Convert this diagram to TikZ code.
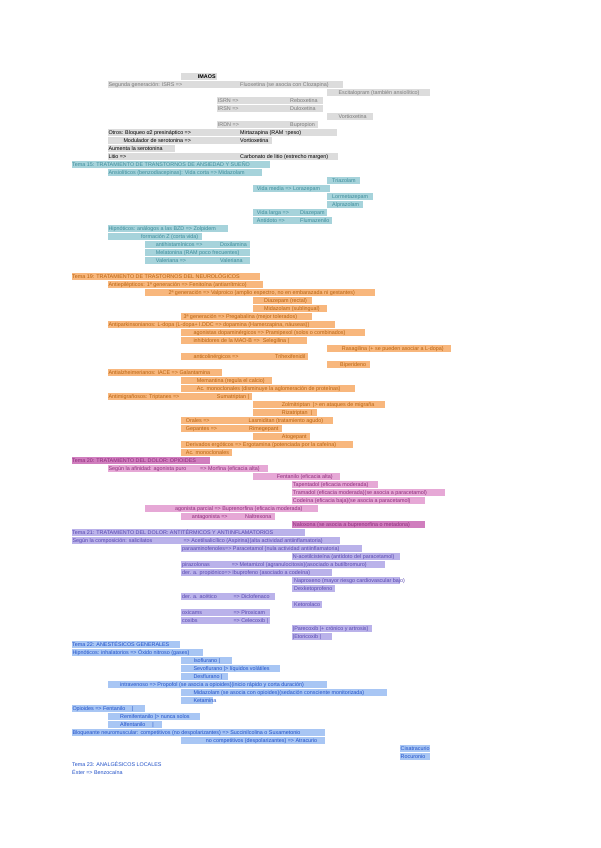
\documentclass[tikz,border=0pt]{standalone}
\usepackage{fontspec}
\setmainfont{Liberation Sans}
\definecolor{gybox}{HTML}{DCDCDC}
\definecolor{gytx}{HTML}{7A7A7A}
\definecolor{tlbox}{HTML}{A6D3DB}
\definecolor{tltx}{HTML}{3D8D9B}
\definecolor{orbox}{HTML}{F8B77D}
\definecolor{ortx}{HTML}{B8620E}
\definecolor{pkbox}{HTML}{E6A8D6}
\definecolor{pkdark}{HTML}{D07EBE}
\definecolor{pktx}{HTML}{8E2C7C}
\definecolor{lvbox}{HTML}{BAB2EA}
\definecolor{lvtx}{HTML}{5847B0}
\definecolor{blbox}{HTML}{A8C6F4}
\definecolor{bltx}{HTML}{2050C8}
\newcounter{nodeid}
\newcommand\hlbox[4]{\fill[#4] (#2,{76.3+8*#1-3.7}) rectangle (#3,{76.3+8*#1+3.7});}
\newcommand\tx[4]{\stepcounter{nodeid}\node[txt,#1] (t\arabic{nodeid}) at (#2,{76.3+8*#3+2}) {#4};}
\tikzset{
  txt/.style={anchor=base west, inner sep=0pt, font=\fontsize{5.4}{6}\selectfont},
  gy/.style={text=gytx}, bk/.style={text=black},
  tl/.style={text=tltx}, or/.style={text=ortx}, pk/.style={text=pktx},
  lv/.style={text=lvtx}, bl/.style={text=bltx}
}
\begin{document}
\begin{tikzpicture}[x=1pt,y=-1pt]
\useasboundingbox (0,0) rectangle (600,848);
\fill[white] (0,0) rectangle (600,848);
% ---------- gray ----------
\hlbox{0}{181}{217}{gybox}
\tx{bk}{197.7}{0}{\bfseries IMAOS}
\hlbox{1}{108}{343}{gybox}
\tx{gy}{108.3}{1}{Segunda generación: ISRS =>}
\tx{gy}{240}{1}{Fluoxetina (se asocia con Clozapina)}
\hlbox{2}{326.7}{430}{gybox}
\tx{gy}{338.3}{2}{Escitalopram (también ansiolítico)}
\hlbox{3}{216.7}{323.3}{gybox}
\tx{gy}{217.7}{3}{ISRN =>}
\tx{gy}{290}{3}{Reboxetina}
\hlbox{4}{216.7}{323.3}{gybox}
\tx{gy}{217.7}{4}{IRSN =>}
\tx{gy}{290}{4}{Duloxetina}
\hlbox{5}{326.7}{373.3}{gybox}
\tx{gy}{338.3}{5}{Vortioxetina}
\hlbox{6}{216.7}{318.3}{gybox}
\tx{gy}{217.7}{6}{IRDN =>}
\tx{gy}{290}{6}{Bupropion}
\hlbox{7}{108}{336.7}{gybox}
\tx{bk}{108.3}{7}{Otros: Bloqueo α2 presináptico =>}
\tx{bk}{240}{7}{Mirtazapina (RAM ↑peso)}
\hlbox{8}{108}{271.7}{gybox}
\tx{bk}{123.3}{8}{Modulador de serotonina =>}
\tx{bk}{240}{8}{Vortioxetina}
\hlbox{9}{108}{175}{gybox}
\tx{bk}{108.3}{9}{Aumenta la serotonina}
\hlbox{10}{108}{338}{gybox}
\tx{bk}{108.3}{10}{Litio =>}
\tx{bk}{240}{10}{Carbonato de litio (estrecho margen)}
% ---------- teal ----------
\hlbox{11}{71.7}{270}{tlbox}
\tx{tl}{72}{11}{Tema 15: TRATAMIENTO DE TRANSTORNOS DE ANSIEDAD Y SUEÑO}
\hlbox{12}{108}{261.7}{tlbox}
\tx{tl}{108.3}{12}{Ansiolíticos (benzodiacepinas): Vida corta => Midazolam}
\hlbox{13}{326.7}{360}{tlbox}
\tx{tl}{332}{13}{Triazolam}
\hlbox{14}{253.3}{330}{tlbox}
\tx{tl}{256.7}{14}{Vida media => Lorazepam}
\hlbox{15}{326.7}{373.3}{tlbox}
\tx{tl}{332}{15}{Lormetazepam}
\hlbox{16}{326.7}{363.3}{tlbox}
\tx{tl}{332}{16}{Alprazolam}
\hlbox{17}{253.3}{326.7}{tlbox}
\tx{tl}{256.7}{17}{Vida larga =>}
\tx{tl}{300}{17}{Diazepam}
\hlbox{18}{253.3}{331.7}{tlbox}
\tx{tl}{256.7}{18}{Antídoto =>}
\tx{tl}{300}{18}{Flumazenilo}
\hlbox{19}{108}{228}{tlbox}
\tx{tl}{108.3}{19}{Hipnóticos: análogos a las BZD => Zolpidem}
\hlbox{20}{108}{201.7}{tlbox}
\tx{tl}{141}{20}{formación Z (corta vida)}
\hlbox{21}{145}{250}{tlbox}
\tx{tl}{155.7}{21}{antihistamínicos =>}
\tx{tl}{220}{21}{Doxilamina}
\hlbox{22}{145}{250}{tlbox}
\tx{tl}{155.7}{22}{Melatonina (RAM poco frecuentes)}
\hlbox{23}{145}{250}{tlbox}
\tx{tl}{155.7}{23}{Valeriana =>}
\tx{tl}{220}{23}{Valeriana}
% ---------- orange ----------
\hlbox{25}{71.7}{260}{orbox}
\tx{or}{72}{25}{Tema 19: TRATAMIENTO DE TRASTORNOS DEL NEUROLÓGICOS}
\hlbox{26}{108}{263.3}{orbox}
\tx{or}{108.3}{26}{Antiepilépticos: 1ª generación => Fenitoína (antiarrítmico)}
\hlbox{27}{145}{375}{orbox}
\tx{or}{168.3}{27}{2ª generación => Valproico (amplio espectro, no en embarazada ni gestantes)}
\hlbox{28}{253.3}{311.7}{orbox}
\tx{or}{264}{28}{Diazepam (rectal)}
\hlbox{29}{253.3}{326.7}{orbox}
\tx{or}{264}{29}{Midazolam (sublingual)}
\hlbox{30}{181}{311.7}{orbox}
\tx{or}{183.3}{30}{3ª generación => Pregabalina (mejor tolerados)}
\hlbox{31}{108}{335}{orbox}
\tx{or}{108.3}{31}{Antiparkinsonianos: L-dopa (L-dopa+ I.DDC => dopamina (Hamerzapina, náuseas))}
\hlbox{32}{181}{365}{orbox}
\tx{or}{193.3}{32}{agonistas dopaminérgicos => Pramipexol (solos o combinados)}
\hlbox{33}{181}{306.7}{orbox}
\tx{or}{193.3}{33}{inhibidores de la MAO-B => \ Selegilina |}
\hlbox{34}{326.7}{451}{orbox}
\tx{or}{341.7}{34}{Rasagilina (+ se pueden asociar a L-dopa)}
\hlbox{35}{181}{308}{orbox}
\tx{or}{193.3}{35}{anticolinérgicos =>}
\tx{or}{275}{35}{Trihexifenidil}
\hlbox{36}{326.7}{370}{orbox}
\tx{or}{340}{36}{Biperideno}
\hlbox{37}{108}{221.7}{orbox}
\tx{or}{108.3}{37}{Antialzheimerianos: IACE => Galantamina}
\hlbox{38}{181}{271.7}{orbox}
\tx{or}{196.7}{38}{Memantina (regula el calcio)}
\hlbox{39}{181}{355}{orbox}
\tx{or}{196.7}{39}{Ac. monoclonales (disminuye la aglomeración de proteínas)}
\hlbox{40}{108}{251.7}{orbox}
\tx{or}{108.3}{40}{Antimigrañosos: Triptanes =>}
\tx{or}{216.7}{40}{Sumatriptan |}
\hlbox{41}{253.3}{385}{orbox}
\tx{or}{281.7}{41}{Zolmitriptan \ |> en ataques de migraña}
\hlbox{42}{253.3}{316.7}{orbox}
\tx{or}{281.7}{42}{Rizatriptan \ |}
\hlbox{43}{181}{333.3}{orbox}
\tx{or}{185.7}{43}{Orales =>}
\tx{or}{248.3}{43}{Lasmiditan (tratamiento agudo)}
\hlbox{44}{181}{281.7}{orbox}
\tx{or}{185.7}{44}{Gepantes =>}
\tx{or}{249}{44}{Rimegepant}
\hlbox{45}{253.3}{310}{orbox}
\tx{or}{281.7}{45}{Atogepant}
\hlbox{46}{181}{353.3}{orbox}
\tx{or}{185.7}{46}{Derivados ergóticos => Ergotamina (potenciada por la cafeína)}
\hlbox{47}{181}{231.7}{orbox}
\tx{or}{185.7}{47}{Ac. monoclonales}
% ---------- pink ----------
\hlbox{48}{71.7}{210}{pkdark}
\tx{pk}{72}{48}{Tema 20: TRATAMIENTO DEL DOLOR: OPIOIDES}
\hlbox{49}{108}{268.3}{pkbox}
\tx{pk}{108.3}{49}{Según la afinidad: agonista puro}
\tx{pk}{200}{49}{=> Morfina (eficacia alta)}
\hlbox{50}{253.3}{340}{pkbox}
\tx{pk}{276.7}{50}{Fentanilo (eficacia alta)}
\hlbox{51}{291.7}{378.3}{pkbox}
\tx{pk}{292.7}{51}{Tapentadol (eficacia moderada)}
\hlbox{52}{291.7}{445}{pkbox}
\tx{pk}{292.7}{52}{Tramadol (eficacia moderada)(se asocia a paracetamol)}
\hlbox{53}{291.7}{425}{pkbox}
\tx{pk}{292.7}{53}{Codeína (eficacia baja)(se asocia a paracetamol)}
\hlbox{54}{145}{318.3}{pkbox}
\tx{pk}{175}{54}{agonista parcial => Buprenorfina (eficacia moderada)}
\hlbox{55}{181}{275}{pkbox}
\tx{pk}{191.7}{55}{antagonista =>}
\tx{pk}{245}{55}{Naltrexona}
\hlbox{56}{291.7}{425}{pkdark}
\tx{pk}{292.7}{56}{Naloxona (se asocia a buprenorfina o metadona)}
% ---------- lavender ----------
\hlbox{57}{71.7}{305}{lvbox}
\tx{lv}{72}{57}{Tema 21: TRATAMIENTO DEL DOLOR: ANTITÉRMICOS Y ANTIINFLAMATORIOS}
\hlbox{58}{71.7}{340}{lvbox}
\tx{lv}{72.3}{58}{Según la composición: salicilatos}
\tx{lv}{183.3}{58}{=> Acetilsalicílico (Aspirina)(alta actividad antiinflamatoria)}
\hlbox{59}{181}{361.7}{lvbox}
\tx{lv}{182}{59}{paraaminofenoles=> Paracetamol (nula actividad antiinflamatoria)}
\hlbox{60}{291.7}{400}{lvbox}
\tx{lv}{292.7}{60}{N-acetilcisteína (antídoto del paracetamol)}
\hlbox{61}{181}{385}{lvbox}
\tx{lv}{182}{61}{pirazolonas}
\tx{lv}{231.7}{61}{=> Metamizol (agranulocitosis)(asociado a butilbromuro)}
\hlbox{62}{181}{331.7}{lvbox}
\tx{lv}{182}{62}{der. a. propiónico=> Ibuprofeno (asociado a codeína)}
\hlbox{63}{291.7}{400}{lvbox}
\tx{lv}{294}{63}{Naproxeno (mayor riesgo cardiovascular bajo)}
\hlbox{64}{291.7}{335}{lvbox}
\tx{lv}{294}{64}{Dexketoprofeno}
\hlbox{65}{181}{275}{lvbox}
\tx{lv}{182}{65}{der. a. acético}
\tx{lv}{233.3}{65}{=> Diclofenaco}
\hlbox{66}{291.7}{321.7}{lvbox}
\tx{lv}{294}{66}{Ketorolaco}
\hlbox{67}{181}{270}{lvbox}
\tx{lv}{182}{67}{oxicams}
\tx{lv}{233.3}{67}{=> Piroxicam}
\hlbox{68}{181}{270}{lvbox}
\tx{lv}{182}{68}{coxibs}
\tx{lv}{233.3}{68}{=> Celecoxib |}
\hlbox{69}{291.7}{371.7}{lvbox}
\tx{lv}{292.7}{69}{|Parecoxib |+ crónico y artrosis)}
\hlbox{70}{291.7}{331.7}{lvbox}
\tx{lv}{292.7}{70}{|Etoricoxib |}
% ---------- blue ----------
\hlbox{71}{71.7}{180}{blbox}
\tx{bl}{72}{71}{Tema 22: ANESTÉSICOS GENERALES}
\hlbox{72}{71.7}{203.3}{blbox}
\tx{bl}{72.3}{72}{Hipnóticos: inhalatorios => Óxido nitroso (gases)}
\hlbox{73}{181}{231.7}{blbox}
\tx{bl}{193.3}{73}{Isoflurano |}
\hlbox{74}{181}{280}{blbox}
\tx{bl}{193.3}{74}{Sevoflurano |> líquidos volátiles}
\hlbox{75}{181}{228.3}{blbox}
\tx{bl}{193.3}{75}{Desflurano |}
\hlbox{76}{108}{326.7}{blbox}
\tx{bl}{120}{76}{intravenoso => Propofol (se asocia a opioides)(inicio rápido y corta duración)}
\hlbox{77}{181}{386.7}{blbox}
\tx{bl}{193.3}{77}{Midazolam (se asocia con opioides)(sedación consciente monitorizada)}
\hlbox{78}{181}{213.3}{blbox}
\tx{bl}{193.3}{78}{Ketamina}
\hlbox{79}{71.7}{145}{blbox}
\tx{bl}{72.3}{79}{Opioides => Fentanilo \quad |}
\hlbox{80}{108}{200}{blbox}
\tx{bl}{120}{80}{Remifentanilo |> nunca solos}
\hlbox{81}{108}{161.7}{blbox}
\tx{bl}{120}{81}{Alfentanilo \quad |}
\hlbox{82}{71.7}{325}{blbox}
\tx{bl}{72.3}{82}{Bloqueante neuromuscular: competitivos (no despolarizantes) => Succinilcolina o Suxametonio}
\hlbox{83}{181}{325}{blbox}
\tx{bl}{205.7}{83}{no competitivos (despolarizantes) => Atracurio}
\hlbox{84}{400}{429.5}{blbox}
\tx{bl}{400.5}{84}{Cisatracurio}
\hlbox{85}{400}{429.5}{blbox}
\tx{bl}{400.5}{85}{Rocuronio}
\tx{bl}{72}{86}{Tema 23: ANALGÉSICOS LOCALES}
\tx{bl}{72}{87}{Éster => Benzocaína}
\end{tikzpicture}
\end{document}
